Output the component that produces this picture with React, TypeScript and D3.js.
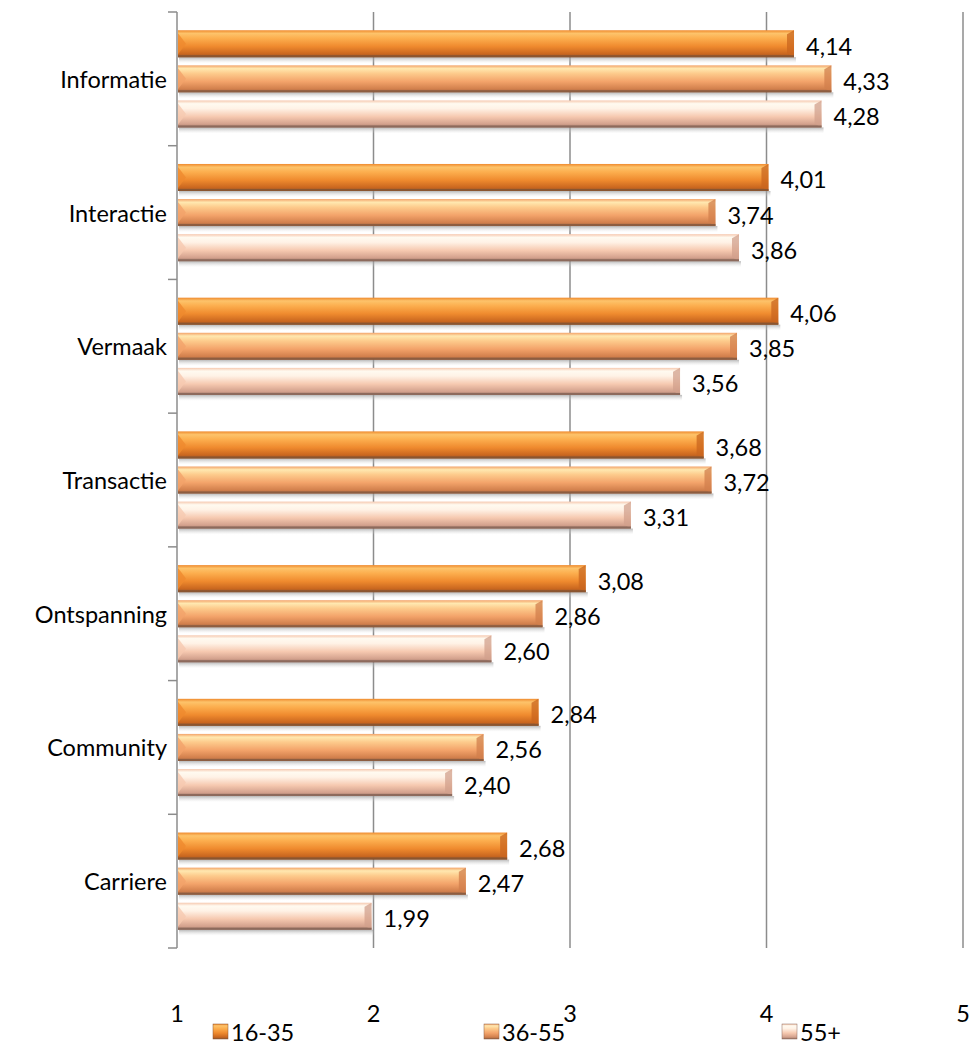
import * as d3 from "d3";
import { useEffect, useRef } from "react";

const categories = [
  "Informatie",
  "Interactie",
  "Vermaak",
  "Transactie",
  "Ontspanning",
  "Community",
  "Carriere",
];
const seriesNames = ["16-35", "36-55", "55+"];
const values1635 = [4.14, 4.01, 4.06, 3.68, 3.08, 2.84, 2.68];
const values3655 = [4.33, 3.74, 3.85, 3.72, 2.86, 2.56, 2.47];
const values55 = [4.28, 3.86, 3.56, 3.31, 2.6, 2.4, 1.99];
const xTicks = [1, 2, 3, 4, 5];

const seriesValues = [values1635, values3655, values55];

// gradient stops per series: top highlight -> body -> bottom shade
const palettes = [
  { top: "#fdc36a", hi: "#fcae4e", mid: "#ef8a2e", low: "#c9661f", edge: "#8a5530" },
  { top: "#ffe8b0", hi: "#fdcb8c", mid: "#f3a36a", low: "#d17f4c", edge: "#8d5d40" },
  { top: "#fffaf0", hi: "#fff2e6", mid: "#f6c9b0", low: "#d2a08c", edge: "#8d6a5c" },
];

const FONT = "Lato, 'Open Sans', sans-serif";
const FS = 23.5;

export default function App() {
  const svgRef = useRef<SVGSVGElement>(null);

  useEffect(() => {
    if (!svgRef.current) return;
    const svg = d3.select(svgRef.current);
    svg.selectAll("*").remove();

    const left = 177;
    const right = 963;
    const top = 12;
    const bottom = 948;

    const x = d3.scaleLinear().domain([1, 5]).range([left, right]);
    const y = d3.scaleBand<string>().domain(categories).range([top, bottom]).padding(0);
    const yInner = d3
      .scaleBand<string>()
      .domain(seriesNames)
      .range([0, y.bandwidth()])
      .paddingInner(0.23)
      .paddingOuter(0.52);

    const defs = svg.append("defs");
    palettes.forEach((p, i) => {
      const g = defs
        .append("linearGradient")
        .attr("id", `grad${i}`)
        .attr("x1", 0)
        .attr("y1", 0)
        .attr("x2", 0)
        .attr("y2", 1);
      g.append("stop").attr("offset", "0%").attr("stop-color", p.mid);
      g.append("stop").attr("offset", "12%").attr("stop-color", p.top);
      g.append("stop").attr("offset", "30%").attr("stop-color", p.hi);
      g.append("stop").attr("offset", "60%").attr("stop-color", p.mid);
      g.append("stop").attr("offset", "88%").attr("stop-color", p.low);
      g.append("stop").attr("offset", "100%").attr("stop-color", p.edge);
    });
    const shadowGrad = defs
      .append("linearGradient")
      .attr("id", "shadow")
      .attr("x1", 0)
      .attr("y1", 0)
      .attr("x2", 0)
      .attr("y2", 1);
    shadowGrad.append("stop").attr("offset", "0%").attr("stop-color", "#999").attr("stop-opacity", 0.7);
    shadowGrad.append("stop").attr("offset", "100%").attr("stop-color", "#ddd").attr("stop-opacity", 0);

    // gridlines
    svg
      .append("g")
      .selectAll("line")
      .data(xTicks.slice(1))
      .join("line")
      .attr("x1", (d) => x(d))
      .attr("x2", (d) => x(d))
      .attr("y1", top)
      .attr("y2", bottom)
      .attr("stroke", "#8c8c8c")
      .attr("stroke-width", 1.5);

    // left axis
    const axisG = svg.append("g");
    axisG
      .append("line")
      .attr("x1", left)
      .attr("x2", left)
      .attr("y1", top)
      .attr("y2", bottom)
      .attr("stroke", "#8c8c8c")
      .attr("stroke-width", 1.5);
    const boundaries = categories.map((c) => y(c)!).concat([bottom]);
    axisG
      .selectAll("line.tick")
      .data(boundaries)
      .join("line")
      .attr("class", "tick")
      .attr("x1", left - 9)
      .attr("x2", left)
      .attr("y1", (d) => d)
      .attr("y2", (d) => d)
      .attr("stroke", "#8c8c8c")
      .attr("stroke-width", 1.5);

    // category labels
    svg
      .append("g")
      .selectAll("text")
      .data(categories)
      .join("text")
      .attr("x", left - 10)
      .attr("y", (d) => y(d)! + y.bandwidth() / 2)
      .attr("text-anchor", "end")
      .attr("dominant-baseline", "central")
      .attr("font-family", FONT)
      .attr("font-size", FS)
      .attr("fill", "#000")
      .text((d) => d);

    // bars
    const fmt = (v: number) => d3.format(".2f")(v).replace(".", ",");
    seriesNames.forEach((s, si) => {
      const p = palettes[si];
      const bh = yInner.bandwidth();
      const g = svg.append("g");
      const rows = categories.map((c, ci) => ({ c, v: seriesValues[si][ci] }));

      // shadow
      g.selectAll("rect.sh")
        .data(rows)
        .join("rect")
        .attr("class", "sh")
        .attr("x", left + 2)
        .attr("y", (d) => y(d.c)! + yInner(s)! + bh)
        .attr("width", (d) => x(d.v) - left)
        .attr("height", 6)
        .attr("fill", "url(#shadow)");

      g.selectAll("rect.bar")
        .data(rows)
        .join("rect")
        .attr("class", "bar")
        .attr("x", left + 1)
        .attr("y", (d) => y(d.c)! + yInner(s)!)
        .attr("width", (d) => x(d.v) - left - 1)
        .attr("height", bh)
        .attr("fill", `url(#grad${si})`);

      // bevel on left end
      g.selectAll("path.lb")
        .data(rows)
        .join("path")
        .attr("class", "lb")
        .attr("d", (d) => {
          const y0 = y(d.c)! + yInner(s)!;
          return `M${left + 1},${y0 + 3} L${left + 9},${y0 + bh / 2} L${left + 1},${y0 + bh - 3} Z`;
        })
        .attr("fill", p.mid)
        .attr("opacity", 0.8);

      // bevel on right end
      g.selectAll("path.rb")
        .data(rows)
        .join("path")
        .attr("class", "rb")
        .attr("d", (d) => {
          const y0 = y(d.c)! + yInner(s)!;
          const x1 = x(d.v);
          return `M${x1},${y0} L${x1 - 7},${y0 + 4} L${x1 - 7},${y0 + bh - 4} L${x1},${y0 + bh} Z`;
        })
        .attr("fill", p.low)
        .attr("opacity", 0.75);

      // bottom edge
      g.selectAll("line.be")
        .data(rows)
        .join("line")
        .attr("class", "be")
        .attr("x1", left + 1)
        .attr("x2", (d) => x(d.v))
        .attr("y1", (d) => y(d.c)! + yInner(s)! + bh - 1)
        .attr("y2", (d) => y(d.c)! + yInner(s)! + bh - 1)
        .attr("stroke", p.edge)
        .attr("stroke-width", 2);

      // value labels
      g.selectAll("text")
        .data(rows)
        .join("text")
        .attr("x", (d) => x(d.v) + 12)
        .attr("y", (d) => y(d.c)! + yInner(s)! + bh / 2 + 2)
        .attr("dominant-baseline", "central")
        .attr("font-family", FONT)
        .attr("font-size", FS)
        .attr("fill", "#000")
        .text((d) => fmt(d.v));
    });

    // x tick labels
    svg
      .append("g")
      .selectAll("text")
      .data(xTicks)
      .join("text")
      .attr("x", (d) => x(d))
      .attr("y", 1013)
      .attr("text-anchor", "middle")
      .attr("dominant-baseline", "central")
      .attr("font-family", FONT)
      .attr("font-size", FS)
      .attr("fill", "#000")
      .text((d) => String(d));

    // legend
    const legendX = [213, 484, 782];
    const lg = svg.append("g");
    seriesNames.forEach((s, si) => {
      const lx = legendX[si];
      lg.append("rect")
        .attr("x", lx)
        .attr("y", 1024)
        .attr("width", 15)
        .attr("height", 15)
        .attr("fill", `url(#grad${si})`)
        .attr("stroke", palettes[si].edge)
        .attr("stroke-width", 0.5);
      lg.append("text")
        .attr("x", lx + 18)
        .attr("y", 1032)
        .attr("dominant-baseline", "central")
        .attr("font-family", FONT)
        .attr("font-size", FS)
        .attr("fill", "#000")
        .text(s);
    });
  }, []);

  return (
    <svg
      ref={svgRef}
      width={978}
      height={1047}
      style={{ position: "absolute", left: 0, top: 0, background: "#fff" }}
    />
  );
}
